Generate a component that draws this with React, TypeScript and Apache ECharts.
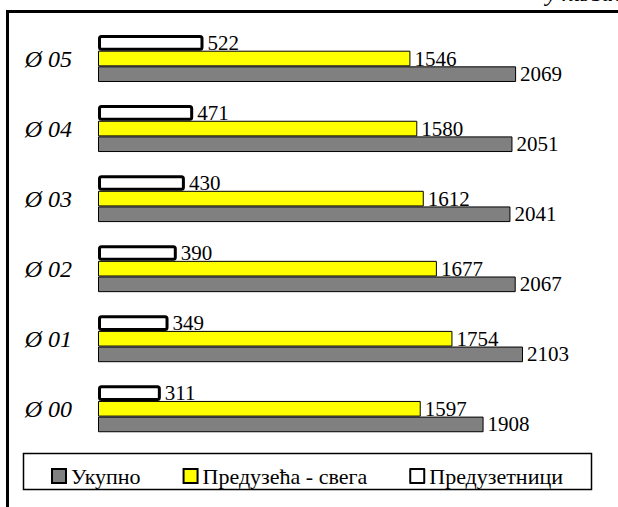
import React, { useEffect, useRef } from "react";
import * as echarts from "echarts";

const categories = ["Ø 00", "Ø 01", "Ø 02", "Ø 03", "Ø 04", "Ø 05"];
const totalValues = [1908, 2103, 2067, 2041, 2051, 2069];
const companyValues = [1597, 1754, 1677, 1612, 1580, 1546];
const entrepreneurValues = [311, 349, 390, 430, 471, 522];
const seriesNames = ["Укупно", "Предузећа - свега", "Предузетници"];
const unitText = "у хиљадама";

const FONT = '"Liberation Serif", "Times New Roman", serif';

export default function App() {
  const ref = useRef<HTMLDivElement>(null);
  useEffect(() => {
    if (!ref.current) return;
    const chart = echarts.init(ref.current, null, { renderer: "svg" });
    const label = {
      show: true,
      position: "right" as const,
      distance: 4,
      color: "#000",
      fontFamily: FONT,
      fontSize: 21,
    };
    chart.setOption({
      animation: false,
      backgroundColor: "#fff",
      grid: { left: 98, right: 14.8, top: 23.5, bottom: 63.2, containLabel: false },
      xAxis: {
        type: "value",
        min: 0,
        max: 2500,
        show: false,
      },
      yAxis: {
        type: "category",
        data: categories,
        axisLine: { show: false },
        axisTick: { show: false },
        axisLabel: {
          margin: 26,
          color: "#000",
          fontFamily: FONT,
          fontStyle: "italic",
          fontSize: 24,
        },
        splitLine: { show: false },
      },
      legend: {
        data: seriesNames,
        left: 46,
        top: 460,
        icon: "rect",
        itemWidth: 14,
        itemHeight: 14,
        itemGap: 42,
        textStyle: { color: "#000", fontFamily: FONT, fontSize: 22 },
        selectedMode: false,
      },
      graphic: [
        {
          type: "rect",
          shape: { x: 7.5, y: 11.5, width: 700, height: 600 },
          style: { fill: "none", stroke: "#000", lineWidth: 3 },
        },
        {
          type: "rect",
          shape: { x: 23.5, y: 453.5, width: 568, height: 36 },
          style: { fill: "none", stroke: "#000", lineWidth: 1.5 },
        },
        {
          type: "text",
          x: 546,
          y: 5,
          style: {
            text: unitText,
            fill: "#000",
            font: `italic 24px ${FONT}`,
            textVerticalAlign: "bottom",
            textBaseline: "alphabetic",
          },
        },
      ],
      series: [
        {
          name: seriesNames[2],
          type: "bar",
          data: entrepreneurValues,
          barGap: "0%",
          barCategoryGap: "33%",
          z: 4,
          itemStyle: {
            color: "#ffffff",
            borderColor: "#000",
            borderWidth: 3,
            borderRadius: 2,
            borderJoin: "round",
          },
          label,
        },
        {
          name: seriesNames[1],
          type: "bar",
          data: companyValues,
          barGap: "0%",
          barCategoryGap: "33%",
          z: 3,
          itemStyle: { color: "#ffff00", borderColor: "#000", borderWidth: 1 },
          label,
        },
        {
          name: seriesNames[0],
          type: "bar",
          data: totalValues,
          barGap: "0%",
          barCategoryGap: "33%",
          z: 2,
          itemStyle: { color: "#808080", borderColor: "#000", borderWidth: 1 },
          label,
        },
      ],
    });
    return () => chart.dispose();
  }, []);
  return (
    <div
      ref={ref}
      style={{ position: "fixed", left: 0, top: 0, width: 618, height: 507, background: "#fff" }}
    />
  );
}
